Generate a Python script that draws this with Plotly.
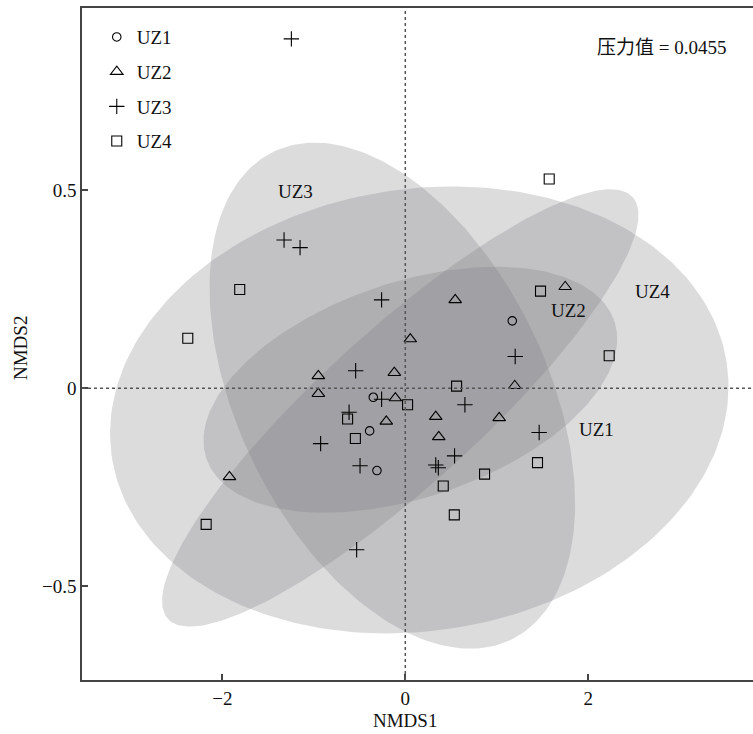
import numpy as np
import plotly.graph_objects as go

# ---- data (NMDS scores) ----
uz1_x = [1.17, -0.35, -0.39, -0.31]
uz1_y = [0.170, -0.023, -0.108, -0.208]

uz2_x = [1.749, 0.546, 0.055, -0.951, -0.120, -0.951, -0.109, -0.208, 0.333, 0.366, 1.027, 1.197, -1.923]
uz2_y = [0.256, 0.223, 0.124, 0.031, 0.039, -0.014, -0.025, -0.084, -0.072, -0.123, -0.075, 0.006, -0.224]

uz3_x = [-1.246, -1.326, -1.151, -0.259, -0.543, -0.259, -0.615, -0.926, -0.495, -0.532, 0.652, 0.539, 0.333, 0.361, 1.202, 1.464]
uz3_y = [0.882, 0.374, 0.355, 0.223, 0.044, -0.028, -0.061, -0.140, -0.196, -0.408, -0.042, -0.171, -0.194, -0.201, 0.080, -0.112]

uz4_x = [1.574, -1.811, -2.379, 1.479, 2.230, 0.561, 0.025, -0.631, -0.546, 0.867, 0.415, 0.536, 1.446, -2.178]
uz4_y = [0.528, 0.249, 0.126, 0.245, 0.082, 0.005, -0.042, -0.078, -0.127, -0.217, -0.247, -0.320, -0.188, -0.344]

group_names = ["UZ1", "UZ2", "UZ3", "UZ4"]

# ellipse statistics (centre in NMDS units, semi-axes in NMDS1 units, angle in degrees)
ell_cx = [0.055, -0.055, -0.142, 0.153]
ell_cy = [-0.004, -0.050, -0.019, -0.055]
ell_a = [2.354, 3.431, 2.966, 3.402]
ell_b = [1.177, 0.852, 1.687, 2.415]
ell_ang = [18.6, 42.2, -63.9, 8.8]
ASPECT = 4.328  # NMDS2 units per NMDS1 unit as displayed

# ellipse labels
lab_x = [2.09, 1.79, -1.20, 2.70]
lab_y = [-0.104, 0.195, 0.496, 0.245]

stress_text = "压力值 = 0.0455"

FONT = "Liberation Serif, Times New Roman, Noto Sans CJK SC, serif"
fig = go.Figure()

t = np.linspace(0, 2 * np.pi, 240)
for cx, cy, a, b, ang in zip(ell_cx, ell_cy, ell_a, ell_b, ell_ang):
    p = np.deg2rad(ang)
    ex = cx + a * np.cos(t) * np.cos(p) - b * np.sin(t) * np.sin(p)
    ey = cy + (a * np.cos(t) * np.sin(p) + b * np.sin(t) * np.cos(p)) / ASPECT
    fig.add_trace(go.Scatter(x=ex, y=ey, mode="lines", fill="toself",
                             fillcolor="rgba(125,125,128,0.27)", line=dict(width=0),
                             hoverinfo="skip", showlegend=False))

symbols = ["circle-open", "triangle-up-open", "cross-thin-open", "square-open"]
sizes = [8.5, 11, 11, 10]
xs = [uz1_x, uz2_x, uz3_x, uz4_x]
ys = [uz1_y, uz2_y, uz3_y, uz4_y]
for name, sx, sy, sym, sz in zip(group_names, xs, ys, symbols, sizes):
    fig.add_trace(go.Scatter(x=sx, y=sy, mode="markers", name=name, legendgroup=name,
                             marker=dict(symbol=sym, size=sz, color="black",
                                         line=dict(width=1.1, color="black"))))

for name, lx, ly in zip(group_names, lab_x, lab_y):
    fig.add_annotation(x=lx, y=ly, text=name, showarrow=False,
                       font=dict(family=FONT, size=19, color="#111"))

PW, PH = 671, 672  # plot area size
fig.add_annotation(xref="paper", yref="paper", x=(728 - 82) / PW, y=1 - (47 - 8) / PH,
                   xanchor="right", yanchor="middle", text=stress_text, showarrow=False,
                   font=dict(family=FONT, size=19, color="#111"))

# zero reference lines
fig.add_shape(type="line", xref="x", yref="paper", x0=0, x1=0, y0=0, y1=1,
              line=dict(color="#555", width=1.5, dash="dot"), layer="above")
fig.add_shape(type="line", xref="paper", yref="y", x0=0, x1=1, y0=0, y1=0,
              line=dict(color="#555", width=1.5, dash="dot"), layer="above")

# axis titles
fig.add_annotation(xref="paper", yref="paper", x=(405 - 82) / PW, y=-(721 - 680) / PH,
                   text="NMDS1", showarrow=False, yanchor="middle",
                   font=dict(family=FONT, size=19, color="#111"))
fig.add_annotation(xref="paper", yref="paper", x=-(82 - 20) / PW, y=1 - (348 - 8) / PH,
                   text="NMDS2", showarrow=False, textangle=-90, xanchor="center",
                   font=dict(family=FONT, size=19, color="#111"))

fig.update_layout(
    width=753, height=734,
    margin=dict(l=82, r=0, t=8, b=54),
    paper_bgcolor="white", plot_bgcolor="white",
    font=dict(family=FONT, size=19, color="#111"),
    showlegend=True,
    legend=dict(x=0.022, y=0.985, xanchor="left", yanchor="top",
                bgcolor="rgba(0,0,0,0)", borderwidth=0, tracegroupgap=7,
                font=dict(family=FONT, size=19, color="#111")),
    xaxis=dict(range=[-3.536, 3.803], tickvals=[-2, 0, 2], showgrid=False, zeroline=False,
               showline=True, linecolor="#444", linewidth=1.5, mirror=True,
               ticks="inside", ticklen=6, tickwidth=1.5, tickcolor="#444"),
    yaxis=dict(range=[-0.737, 0.960], tickvals=[-0.5, 0, 0.5], showgrid=False, zeroline=False,
               showline=True, linecolor="#444", linewidth=1.5,
               ticks="inside", ticklen=6, tickwidth=1.5, tickcolor="#444"),
)

fig.write_html("out.html", config={"displayModeBar": False},
               post_script="document.body.style.margin='0';document.body.style.overflow='hidden';")
